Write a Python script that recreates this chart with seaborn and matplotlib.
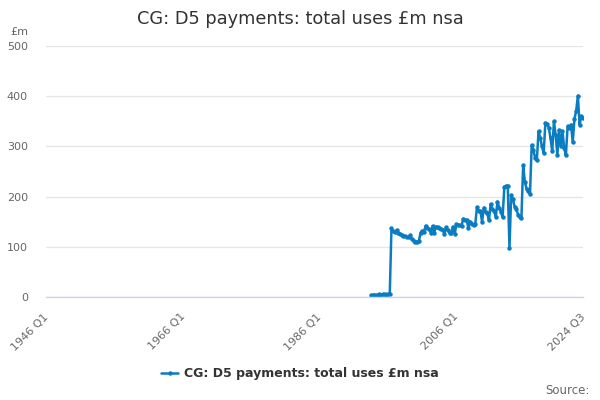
import matplotlib
matplotlib.use("Agg")
import matplotlib.pyplot as plt
import matplotlib.transforms as mtransforms
import seaborn as sns
import pandas as pd
import numpy as np

title = "CG: D5 payments: total uses £m nsa"
series_name = "CG: D5 payments: total uses £m nsa"
unit_label = "£m"
source_label = "Source:"

first_year = 1993
first_quarter = 3
values = [
    3, 3, 4, 3, 4, 5, 4, 5, 5, 4, 6, 5,
    137, 131, 130, 133, 128, 126, 124, 122, 121, 119, 120, 123,
    115, 112, 110, 110, 111, 128, 132, 130, 142, 137, 135, 128,
    141, 128, 140, 139, 137, 136, 134, 126, 139, 133, 127, 128,
    140, 126, 145, 144, 143, 142, 156, 154, 153, 137, 150, 146,
    143, 145, 179, 172, 171, 150, 178, 170, 167, 153, 185, 176,
    172, 160, 190, 178, 170, 159, 219, 221, 222, 98, 203, 195,
    180, 175, 164, 160, 158, 263, 230, 215, 212, 205, 302, 293,
    277, 272, 330, 317, 300, 287, 347, 345, 337, 317, 290, 350,
    323, 283, 333, 300, 330, 297, 282, 340, 337, 343, 308, 355,
    370, 401, 343, 360, 357,
]
tick_positions = [1946.0, 1966.0, 1986.0, 2006.0, 2024.5]
tick_labels = ["1946 Q1", "1966 Q1", "1986 Q1", "2006 Q1", "2024 Q3"]
y_ticks = [0, 100, 200, 300, 400, 500]

t = [first_year + (first_quarter - 1 + i) / 4.0 for i in range(len(values))]
df = pd.DataFrame({"t": t, "value": values})

sns.set_theme(style="white")
plt.rcParams["font.family"] = ["DejaVu Sans"]

fig = plt.figure(figsize=(6, 4), dpi=100)
ax = fig.add_axes([46 / 600, 103 / 400, 537 / 600, 251 / 400])
line_color = "#0a7cc1"
sns.lineplot(data=df, x="t", y="value", ax=ax, color=line_color, linewidth=1.8,
             marker="o", markersize=3.2, markeredgewidth=0, label=series_name,
             legend=False)

ax.set_xlim(1946.0, 2024.5)
ax.set_ylim(0, 500)
ax.set_yticks(y_ticks)
ax.set_yticklabels([str(v) for v in y_ticks], color="#666666", fontsize=8)
ax.yaxis.grid(True, color="#e6e6e6", linewidth=1)
ax.tick_params(axis="y", length=0, pad=13)
for lbl in ax.get_yticklabels():
    lbl.set_horizontalalignment("right")

minor = list(np.arange(1946.0, 2024.0, 5.0)) + [2024.5]
ax.set_xticks(minor, minor=True)
ax.set_xticks(tick_positions)
ax.set_xticklabels(tick_labels, rotation=45, ha="right", rotation_mode="anchor",
                   color="#666666", fontsize=8)
ax.tick_params(axis="x", which="both", length=10, width=1, color="#ccd6eb",
               direction="out", pad=0.5)
shift = mtransforms.ScaledTranslation(-3 / 100, 0, fig.dpi_scale_trans)
for lbl in ax.get_xticklabels():
    lbl.set_transform(lbl.get_transform() + shift)
ax.set_xlabel("")
ax.set_ylabel("")
for s in ["top", "right", "left"]:
    ax.spines[s].set_visible(False)
ax.spines["bottom"].set_color("#ccd6eb")
ax.spines["bottom"].set_linewidth(1)

fig.text(0.5, 1 - 19 / 400, title, ha="center", va="center", fontsize=12.8, color="#333333")
fig.text(10 / 600, 1 - 32 / 400, unit_label, ha="left", va="center", fontsize=8, color="#666666")
fig.text(590 / 600, 1 - 390 / 400, source_label, ha="right", va="center", fontsize=8.5, color="#666666")

handle = plt.Line2D([], [], color=line_color, linewidth=1.8, marker="o", markersize=3.2,
                    markeredgewidth=0)
fig.legend([handle], [series_name], loc="center", bbox_to_anchor=(0.5, 1 - 374 / 400),
           frameon=False, handlelength=1.3, handletextpad=0.5,
           prop={"weight": "bold", "size": 9})
leg = fig.legends[0]
for txt in leg.get_texts():
    txt.set_color("#333333")

fig.savefig("out.png", dpi=100)
